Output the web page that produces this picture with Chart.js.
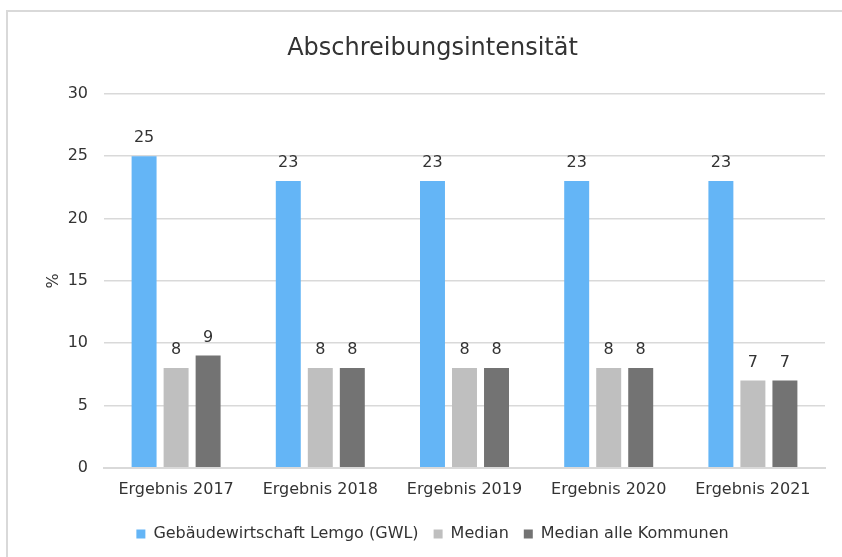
<!DOCTYPE html>
<html>
<head>
<meta charset="utf-8">
<script src="https://cdn.jsdelivr.net/npm/chart.js@4.4.1/dist/chart.umd.min.js"></script>
<style>
  html, body { margin: 0; padding: 0; width: 842px; height: 557px; overflow: hidden; background: #fff; }
  #frame {
    position: absolute; left: 6px; top: 10px;
    width: 841px; height: 600px;
    border-top: 2px solid #d9d9d9; border-left: 2px solid #d9d9d9;
  }
  #chart { display: block; }
</style>
</head>
<body>
<div id="frame"><canvas id="chart" width="841" height="540"></canvas></div>
<script>
// ── data ─────────────────────────────────────────────
const categories = ['Ergebnis 2017', 'Ergebnis 2018', 'Ergebnis 2019', 'Ergebnis 2020', 'Ergebnis 2021'];
const gwlValues = [25, 23, 23, 23, 23];
const medianValues = [8, 8, 8, 8, 7];
const medianAllValues = [9, 8, 8, 8, 7];
const seriesNames = ['Gebäudewirtschaft Lemgo (GWL)', 'Median', 'Median alle Kommunen'];
const seriesColors = ['#64b5f6', '#bfbfbf', '#737373'];

const FONT = "'DejaVu Sans', Verdana, sans-serif";
const TEXT = '#333333';

// value labels above each bar
const barLabels = {
  id: 'barLabels',
  afterDatasetsDraw(chart) {
    const c = chart.ctx;
    c.save();
    c.font = '16px ' + FONT;
    c.fillStyle = TEXT;
    c.textAlign = 'center';
    c.textBaseline = 'alphabetic';
    chart.data.datasets.forEach((ds, i) => {
      chart.getDatasetMeta(i).data.forEach((el, j) => {
        c.fillText(String(ds.data[j]), el.x, el.y - 14);
      });
    });
    c.restore();
  }
};

function makeSet(label, data, color) {
  return {
    label: label,
    data: data,
    backgroundColor: color,
    borderWidth: 0,
    categoryPercentage: 0.666,
    barPercentage: 0.78,
  };
}

new Chart(document.getElementById('chart'), {
  type: 'bar',
  data: {
    labels: categories,
    datasets: [
      makeSet(seriesNames[0], gwlValues, seriesColors[0]),
      makeSet(seriesNames[1], medianValues, seriesColors[1]),
      makeSet(seriesNames[2], medianAllValues, seriesColors[2]),
    ]
  },
  options: {
    responsive: false,
    animation: false,
    layout: { padding: { left: 32, right: 24, top: 0, bottom: 0 } },
    plugins: {
      tooltip: { enabled: false },
      title: {
        display: true,
        text: 'Abschreibungsintensität',
        color: TEXT,
        font: { family: FONT, size: 24, weight: 'normal' },
        padding: { top: 22, bottom: 31 },
      },
      legend: {
        display: true,
        position: 'bottom',
        labels: {
          color: TEXT,
          font: { family: FONT, size: 16 },
          boxWidth: 9,
          boxHeight: 9,
          padding: 15,
        }
      }
    },
    scales: {
      x: {
        grid: { display: false, drawTicks: false },
        border: { display: true, color: '#d9d9d9', width: 2 },
        ticks: { color: TEXT, font: { family: FONT, size: 16 }, padding: 12 },
      },
      y: {
        min: 0,
        max: 30,
        afterFit: (scale) => { scale.width = 64; },
        ticks: { stepSize: 5, color: TEXT, font: { family: FONT, size: 16 }, padding: 16 },
        grid: { color: '#d9d9d9', lineWidth: 1.5, drawTicks: false },
        border: { display: false },
        title: {
          display: true,
          text: '%',
          color: TEXT,
          font: { family: FONT, size: 16 },
          padding: { top: 4, bottom: 4 },
        }
      }
    }
  },
  plugins: [barLabels],
});
</script>
</body>
</html>
